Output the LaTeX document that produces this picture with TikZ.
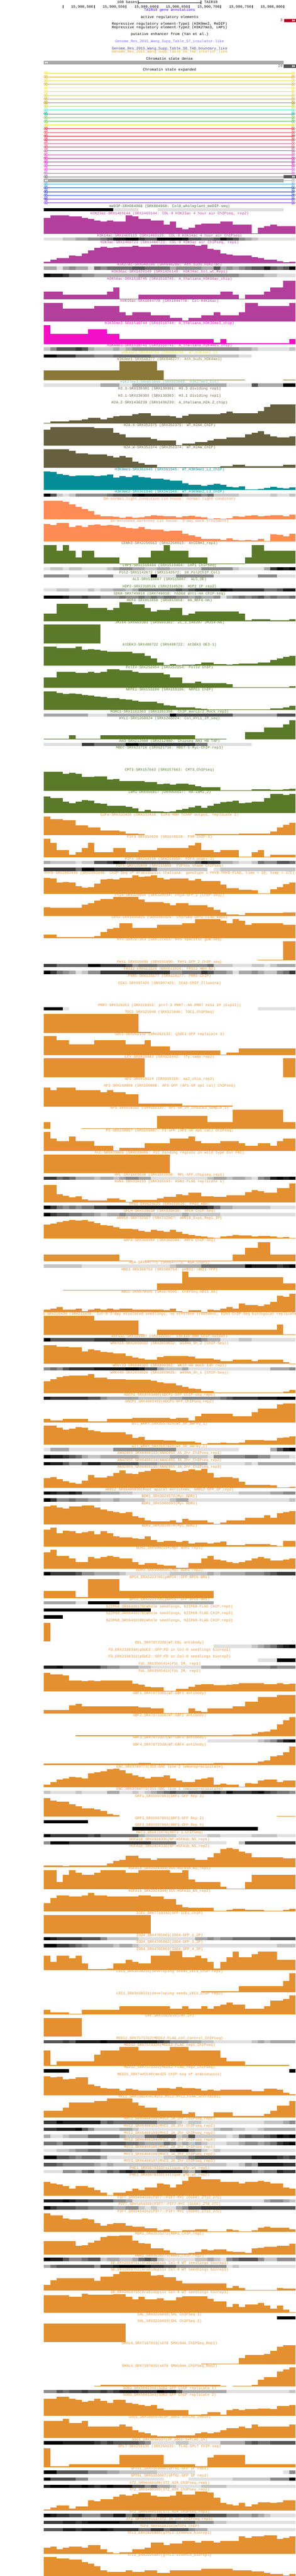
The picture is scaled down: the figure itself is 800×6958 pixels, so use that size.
\documentclass[tikz,border=0pt]{standalone}
\usepackage{fontspec}
\newfontfamily\labfont{Liberation Mono}
\definecolor{shadeA}{HTML}{E0E0E0}
\definecolor{shadeB}{HTML}{C4C4C4}
\definecolor{shadeC}{HTML}{A8A8A8}
\definecolor{shadeD}{HTML}{8C8C8C}
\definecolor{shadeE}{HTML}{707070}
\definecolor{shadeF}{HTML}{555555}
\definecolor{shadeG}{HTML}{383838}
\definecolor{shadeH}{HTML}{1C1C1C}
\definecolor{shadeI}{HTML}{000000}
\definecolor{acetyl}{HTML}{B43E9C}
\definecolor{trimeth}{HTML}{F30FC8}
\definecolor{kfour}{HTML}{C81EA8}
\definecolor{medip}{HTML}{3C5A3C}
\definecolor{kmeyel}{HTML}{E0E020}
\definecolor{kmeone}{HTML}{8A7636}
\definecolor{ktwenty}{HTML}{70C0B8}
\definecolor{histone}{HTML}{66603E}
\definecolor{kteal}{HTML}{048C98}
\definecolor{dhsite}{HTML}{FF8C55}
\definecolor{chromreg}{HTML}{5A7A2A}
\definecolor{tfactor}{HTML}{E49030}
\definecolor{geneblue}{HTML}{3B00F0}
\definecolor{tabseven}{HTML}{7B68EE}
\definecolor{tabeight}{HTML}{483D8B}
\definecolor{tabnine}{HTML}{DAA520}
\definecolor{regred}{HTML}{B2001F}
\tikzset{
  tracklab/.style={font=\labfont\fontsize{10}{10}\selectfont,inner sep=0pt,anchor=base},
  rightlab/.style={tracklab,anchor=base east},
  leftlab/.style={tracklab,anchor=base west},
  rowline/.style={line width=1pt},
  chevron/.style={line width=.8pt,line join=miter}
}
\newcount\ypos
\ypos=557
% bar track: colour, label, forty heights
\newcommand{\bartrack}[3]{%
  \foreach \v [count=\i from 0] in {#3} {%
    \ifnum\v>0
      \edef\xa{\ifnum\i=0 118\else\the\numexpr119+17*\i\relax\fi}%
      \edef\xb{\the\numexpr136+17*\i\relax}%
      \edef\ya{\the\numexpr\ypos+56-\v\relax}%
      \edef\yb{\the\numexpr\ypos+56\relax}%
      \fill[#1] (\xa,\ya) rectangle (\xb,\yb);
    \fi}%
  \node[tracklab,text=#1] (lab\the\ypos) at (458.5,\the\numexpr\ypos+3\relax) {#2};
  \global\advance\ypos by 60\relax}
% dense track: colour, label, forty shades (0 = none)
\newcommand{\densetrack}[3]{%
  \foreach \v [count=\i from 0] in {#3} {%
    \ifnum\v>0
      \edef\xa{\ifnum\i=0 118\else\the\numexpr119+17*\i\relax\fi}%
      \edef\xb{\the\numexpr136+17*\i\relax}%
      \edef\ya{\the\numexpr\ypos+5\relax}%
      \edef\yb{\the\numexpr\ypos+14\relax}%
      \fill[shade\ifcase\v\or A\or B\or C\or D\or E\or F\or G\or H\or I\fi] (\xa,\ya) rectangle (\xb,\yb);
    \fi}%
  \node[tracklab,text=#1] (lab\the\ypos) at (458.5,\the\numexpr\ypos+3\relax) {#2};
  \global\advance\ypos by 19\relax}
\newcommand{\fwdmarks}[1]{%
  \fill[white] (790,#1-3) -- (793.5,#1) -- (790,#1+3) -- cycle (794,#1-3) -- (797.5,#1) -- (794,#1+3) -- cycle;}
\newcommand{\revmarks}[1]{%
  \fill[white] (124.5,#1-3) -- (121,#1) -- (124.5,#1+3) -- cycle (128.5,#1-3) -- (125,#1) -- (128.5,#1+3) -- cycle;}
\begin{document}
\catcode`\_=12
\begin{tikzpicture}[x=1pt,y=-1pt]
  \useasboundingbox (0,0) rectangle (800,6958);
  % scale bar and ruler
  \node[rightlab] (scalelab) at (371,9.5) {100 bases};
  \node[leftlab] (asmlab) at (552,9.5) {TAIR10};
  \draw (373.5,2) -- (373.5,11) (373.5,6.5) -- (543.5,6.5) (543.5,2) -- (543.5,11);
  \foreach \x in {169.5,254.5,340,425.5,510.5,596,681.5,766.5}
    \draw (\x,13.5) -- (\x,22);
  \foreach \x/\t in {254.5/500,340/550,425.5/600,510.5/650,596/700,681.5/750,766.5/800}
    \node[rightlab] (ruler\t) at (\x-2,21) {15,900,\t};
  % upper labels
  \node[tracklab,text=geneblue] (genes) at (458.5,30) {TAIR10 gene annotations};
  \node[tracklab] (active) at (458.5,49) {active regulatory elements};
  \node[tracklab] (repone) at (458.5,68) {Repressive regulatory element-Type1 (H3K9me2, MeDIP)};
  \node[tracklab] (reptwo) at (458.5,77) {Repressive regulatory element-Type2 (H3K27me3, LHP1)};
  \node[tracklab] (putative) at (458.5,96) {putative enhancer from (Yan et al.)};
  \node[tracklab,text=tabseven] (tseven) at (458.5,115) {Genome_Res_2015_Wang_Supp_Table_S7_insulator-like};
  \node[tracklab,text=tabeight] (teight) at (458.5,134) {Genome_Res_2015_Wang_Supp_Table_S8_TAD_boundary_like};
  \node[tracklab,text=tabnine] (tnine) at (458.5,143) {Genome_Res_2015_Wang_Supp_Table_S9_TAD_interior_like};
  \node[rightlab,text=regred] (regcount) at (764,58) {3};
  \fill[regred] (768,51) rectangle (800,60);
  \fwdmarks{55.5}
  \node[tracklab] (dense) at (458.5,162) {Chromatin state dense};
  \fill[shadeC] (118,164.5) rectangle (767,173.5);
  \revmarks{169}
  \node[rightlab,text=shadeF] (statecount) at (764,181) {29};
  \fill[shadeF] (767,174) rectangle (800,183);
  \fwdmarks{178.5}
  \node[tracklab] (expanded) at (458.5,191) {Chromatin state expanded};
  % chromatin state rows
  \foreach \c [count=\r from 0] in {EEE22E,E8A02C,E6DC4A,C4B23E,EEEE3C,F5DD46,D8D030,C8A82A,A88A00,C8DC20,40F0C8,009980,6CC040,50B850,E0E020,E82030,E84048,D81020,C82030,E85880,C03850,B84890,E048B0,E000A0,D000C0,F020E0,F848F8,C858D0,555555,AAAAAA,30A8E0,1040B0,0820B0,2040E0,4020D8,8030F0} {
    \definecolor{rowc}{HTML}{\c}
    \pgfmathsetmacro\yr{197.5+10*\r}
    \draw[rowline,rowc] (127,\yr) -- (790,\yr);
    \draw[chevron,rowc] (122.5,\yr-4) -- (118.5,\yr) -- (122.5,\yr+4) -- cycle
      (127,\yr-4) -- (123,\yr) -- (127,\yr+4) -- cycle
      (789.5,\yr-4) -- (793.5,\yr) -- (789.5,\yr+4) -- cycle
      (794,\yr-4) -- (798,\yr) -- (794,\yr+4) -- cycle;
  }
  \fill[shadeF] (767,473) rectangle (800,482);
  \fwdmarks{477.5}
  \fill[shadeC] (118,483) rectangle (767,492);
  \revmarks{487.5}
  % signal tracks
  \fill[black] (118,562) rectangle (306,571);
  \fill[shadeA] (306,562) rectangle (375,571) (426,562) rectangle (767,571);
  \densetrack{medip}{meDIP-SRX004968 (SRX004968: Col0_wholeplant_meDIP-seq)}{0}
  \bartrack{acetyl}{H3K23ac-SRX1469144 (SRX1469144: COL-0 H3K23ac 4 hour air ChIPseq, rep2)}{44,51,51,51,48,48,44,40,36,33,36,33,33,51,48,40,40,36,36,25,33,17,13,17,25,28,28,28,33,33,25,25,25,2,17,21,25,21,21,21}
  \densetrack{acetyl}{H3K14ac-SRX1469119 (SRX1469119: COL-0 H3K14ac 4 hour air ChIPseq)}{1,1,1,2,2,3,3,4,4,5,6,8,8,9,9,7,6,6,9,9,9,9,8,6,6,5,5,6,8,7,6,4,3,2,1,1,1,1,1,1}
  \bartrack{acetyl}{H3K9ac-SRX1466723 (SRX1466723: COL-0 H3K9ac air ChIPseq, rep1)}{4,9,14,14,21,19,26,34,42,45,42,43,45,45,47,45,45,50,50,50,50,50,50,50,47,50,39,36,26,24,21,21,21,16,14,9,9,6,2,4}
  \densetrack{acetyl}{H3K27ac-SRX648280 (SRX648280: Ath_buds_H3K27ac)}{3,3,1,3,4,3,3,1,5,4,5,5,5,5,6,6,5,5,5,5,3,4,4,4,4,3,3,6,3,4,3,4,5,6,6,8,6,5,6,9}
  \densetrack{acetyl}{H3K36ac-SRX1426149 (SRX1426149: H3K36ac_Col_wt_Rep1)}{9,8,8,7,5,5,4,4,3,3,3,3,3,3,3,4,4,4,4,4,4,4,4,4,4,4,4,4,4,4,4,3,3,3,3,2,2,1,1,1}
  \bartrack{acetyl}{H3K56ac-SRX1518745 (SRX1518745: A_thaliana_H3K56ac_chip)}{21,21,21,13,13,13,13,13,13,13,21,32,2,2,2,13,13,13,13,13,13,13,13,13,13,13,13,13,21,21,13,2,13,13,13,21,32,32,51,51}
  \bartrack{acetyl}{H4K16ac-SRX1044778 (SRX1044778: Col-H4K16ac)}{51,51,51,35,35,35,35,35,43,43,43,43,26,18,26,26,26,18,18,18,10,10,3,10,10,18,18,26,18,18,18,26,51,51,43,43,43,43,43,51}
  \bartrack{trimeth}{H3K36me3-SRX1518744 (SRX1518744: A_thaliana_H3K36me3_chip)}{51,27,27,27,27,27,27,40,40,40,27,27,14,14,14,14,14,14,14,14,14,14,14,14,14,14,14,3,14,2,2,2,2,2,2,2,2,2,2,14}
  \densetrack{kfour}{H3K4me3-SRX1518741 (SRX1518741: A_thaliana_H3K4me3_chip)}{2,4,6,6,6,7,6,3,2,2,2,3,2,3,4,4,4,4,4,4,4,4,4,4,4,4,4,4,4,4,4,3,3,2,1,1,1,1,1,2}
  \densetrack{kmeyel}{H3K4me2-DRX066756 (DRX066756: WT_H3K4me2_1)}{9,9,7,7,7,5,5,5,4,4,4,5,5,5,5,5,5,4,4,4,4,2,2,2,2,2,2,2,2,2,2,1,1,0,0,0,0,0,0,0}
  \bartrack{kmeone}{H3K4me1-SRX648277 (SRX648277: Ath_buds_H3K4me1)}{26,26,26,26,26,26,26,26,26,26,26,26,51,51,51,51,51,51,26,2,2,2,2,2,2,2,2,2,2,2,2,2,0,0,0,0,0,0,2,2}
  \densetrack{ktwenty}{H3K27me3-SRX853860 (SRX853860: H3K27me3_Col)}{1,1,1,1,1,1,1,1,1,3,3,3,1,1,3,3,3,3,3,3,3,3,3,3,3,3,3,3,3,1,1,1,1,6,3,3,3,3,9,9}
  \densetrack{histone}{H3.3-SRX130301 (SRX130301: H3.3 dividing rep1)}{0}
  \densetrack{histone}{H3.1-SRX130303 (SRX130303: H3.1 dividing rep1)}{0}
  \bartrack{histone}{H2A.Z-SRX1436239 (SRX1436239: A_thaliana_H2A.Z_chip)}{2,5,5,5,8,8,11,15,15,11,15,19,21,21,25,28,28,21,21,21,19,15,21,25,25,25,25,25,28,32,28,28,28,28,34,45,51,51,51,51}
  \bartrack{histone}{H2A.X-SRX352375 (SRX352375: WT_H2AX_ChIP)}{43,51,51,51,51,51,51,51,47,47,47,35,31,22,22,22,22,19,14,14,14,2,6,6,10,10,14,19,19,22,22,22,31,35,39,31,26,22,22,26}
  \bartrack{histone}{H2A.W-SRX352374 (SRX352374: WT_H2AW_ChIP)}{51,51,51,51,47,40,40,36,36,36,32,28,32,28,17,13,9,9,2,2,2,2,2,2,2,2,2,2,5,5,9,9,5,5,5,5,5,5,9,9}
  \bartrack{kteal}{H3K9me1-SRX361945 (SRX361945: WT_H3K9me1_LJ_ChIP)}{51,49,44,41,38,39,40,40,38,40,43,34,38,36,39,36,34,31,31,29,26,26,18,15,15,12,15,17,14,9,8,10,2,2,3,6,9,6,5,8}
  \densetrack{kteal}{H3K9me2-SRX361946 (SRX361946: WT_H3K9me2_LJ_ChIP)}{9,6,2,1,2,4,4,4,4,4,5,6,6,6,8,9,8,8,8,8,8,8,6,5,5,4,5,2,2,2,2,1,1,1,1,1,2,1,1,2}
  \bartrack{dhsite}{DH-normal_light_condition (in house: normal light conditon)}{51,51,51,47,40,34,28,22,13,8,8,7,5,7,4,6,8,12,10,9,8,6,8,10,7,6,2,3,2,3,9,7,10,11,8,10,12,11,9,13}
  \bartrack{dhsite}{DH-extended_darkness (in house: 3-day dark treatment)}{48,45,51,50,40,43,40,45,47,43,45,44,40,37,35,39,34,33,33,28,29,30,22,17,13,7,7,7,4,9,5,3,5,3,7,2,20,18,15,21}
  \bartrack{chromreg}{CENH3-SRX2250913 (SRX2250913: AtCENH3_rep1)}{51,51,35,51,35,18,35,35,18,18,18,18,1,1,1,18,18,35,35,51,35,35,35,18,18,18,1,1,1,1,1,1,18,51,51,35,35,35,35,35}
  \densetrack{chromreg}{LHP1-SRX1519404 (SRX1519404: LHP1 ChIPseq)}{1,2,2,1,2,2,1,1,1,1,2,3,4,4,3,3,2,2,3,3,2,2,2,2,2,4,4,4,4,4,2,1,1,1,1,3,7,9,8,9}
  \densetrack{chromreg}{Pol2-SRX1142672 (SRX1142672: 30_Pol2ChIP_Col)}{4,4,4,4,1,1,1,4,4,4,4,1,1,1,1,1,1,9,1,1,1,4,4,4,4,4,4,1,1,1,1,1,1,1,4,4,4,1,1,1}
  \densetrack{chromreg}{AL5-SRX515067 (SRX515067: AL5_OE)}{0}
  \densetrack{chromreg}{HDP2-SRX2310526 (SRX2310526: HDP2 IP rep2)}{1,1,2,2,1,1,1,2,1,2,2,3,3,2,3,5,5,5,5,5,5,6,5,6,7,7,7,7,9,8,7,7,7,7,7,5,5,6,8,8}
  \densetrack{chromreg}{SDG8-SRX749018 (SRX749018: hSDG8 anti-HA ChIP-seq)}{9,9,9,8,6,6,7,6,6,4,4,4,5,4,4,5,4,5,4,5,5,4,4,3,4,3,3,4,1,3,4,5,4,5,6,4,5,4,4,5}
  \bartrack{chromreg}{REF6-SRX853858 (SRX853858: HA_REF6-HA)}{20,20,47,47,47,47,47,36,36,36,31,36,51,51,46,46,36,26,31,31,36,36,16,20,26,26,26,26,26,26,26,20,2,6,6,6,2,2,2,6}
  \bartrack{chromreg}{JMJ14-SRX669383 (SRX669383: ZC_3_140207 JMJ14-HA)}{51,51,51,51,51,51,51,51,51,0}
  \bartrack{chromreg}{AtDEK3-SRX488722 (SRX488722: AtDEK3 OE3-1)}{51,51,48,48,48,51,43,45,43,40,37,37,37,37,33,33,27,20,9,2,4,2,3,3,4,9,9,4,4,3,4,6,6,6,9,9,16,20,24,26}
  \bartrack{chromreg}{PolIV-SRX252954 (SRX252954: PolIV ChIP)}{28,28,44,44,44,40,40,44,40,44,51,51,48,48,44,40,40,40,40,36,28,28,13,13,17,13,13,13,13,10,2,2,2,2,2,2,2,2,2,5}
  \bartrack{chromreg}{NRPE1-SRX159106 (SRX159106: NRPE1 ChIP)}{51,51,47,44,45,43,41,40,37,35,33,32,29,28,25,23,23,22,18,13,11,8,8,8,4,3,2,2,2,2,2,2,2,2,2,2,5,5,8,12}
  \densetrack{chromreg}{MORC1-SRX1161363 (SRX1161358: ChIP_morc1/2_Mock_rep3)}{3,3,3,3,3,3,3,1,1,1,3,3,3,3,3,3,3,3,3,3,9,6,6,6,6,6,6,6,6,6,3,3,3,3,3,3,3,6,6,6}
  \bartrack{chromreg}{HYL1-SRX1268024 (SRX1268024: Col_HYL1_IP_seq)}{2,2,2,2,11,2,2,2,2,11,11,11,11,11,11,11,11,11,11,11,11,11,11,11,2,2,2,2,2,0,0,0,20,20,20,32,32,32,41,51}
  \densetrack{chromreg}{AN3-SRX212080 (SRX212080: Chipseq AN3 HB TAP)}{1,1,1,1,1,1,7,7,5,5,5,5,5,9,9,7,7,7,7,7,7,7,7,7,5,5,1,1,1,1,1,1,1,0,0,0,0,0,0,0}
  \bartrack{chromreg}{MBD7-SRX621716 (SRX621716: MBD7-5-Myc-ChIP-rep1)}{0}
  \bartrack{chromreg}{CMT3-SRX157663 (SRX157663: CMT3_ChIPseq)}{51,51,51,46,48,46,37,37,39,39,31,32,27,26,26,26,24,24,18,20,16,19,20,16,12,10,10,9,2,2,2,2,2,4,4,4,3,3,4,6}
  \bartrack{chromreg}{IBM1-DRX066817 (DRX066817: HA-IBM1_2)}{44,41,40,31,26,31,35,33,26,25,20,20,19,17,13,4,8,4,4,3,4,9,11,15,19,14,19,25,29,31,33,27,28,31,31,40,51,51,49,51}
  \bartrack{tfactor}{E2Fa-SRX333416 (SRX333416: E2Fa-HBH TChAP output, replicate 2)}{51,44,44,40,40,26,26,21,21,13,13,13,10,4,4,3,0,0,0,0,0,0,0,0,3,3,3,3,3,3,3,5,5,5,5,5,10,21,28,33}
  \bartrack{tfactor}{PIF3-SRX159028 (SRX159028: P3M-ChIP-3)}{51,39,20,20,7,14,26,39,14,14,14,26,26,14,14,20,20,20,26,26,26,26,26,33,39,20,20,14,20,20,20,2,2,14,20,2,7,7,7,7}
  \densetrack{tfactor}{PIF4-SRX214150 (SRX214150: PIF4-peaks-3)}{3,2,2,2,2,1,2,2,6,6,7,9,8,6,6,6,6,6,6,6,5,5,5,5,6,8,7,7,3,3,2,1,1,2,5,4,4,6,6,5}
  \densetrack{tfactor}{PIF5-SRX115869 (SRX115869: PIF5ox shade ChIPseq)}{7,7,7,7,7,5,9,9,7,7,7,7,7,7,7,7,7,5,2,2,2,2,2,2,2,2,0,1,2,2,2,2,2,2,2,2,2,2,2,2}
  \bartrack{tfactor}{PHYB-SRX2083648 (SRX2083648: ChIP-Seq of Arabidopsis thaliana: genotype = PHYB:PHYB-FLAG, time = 10, temp = 17C)}{43,41,30,32,30,20,16,18,28,38,40,38,43,43,50,46,47,50,43,38,41,41,41,36,40,35,35,35,24,15,15,11,11,10,1,1,12,18,26,30}
  \bartrack{tfactor}{PhyA-SRX320094 (SRX320094: PhyA-GFP_1 [ChIP-seq])}{24,22,22,22,22,22,30,35,41,45,45,51,51,51,51,44,38,38,38,34,29,34,34,29,29,29,23,16,9,4,4,2,8,8,8,8,8,8,9,9}
  \bartrack{tfactor}{CRY2-SRX1005826 (SRX1005826: ChIPSeq-CRY2_FLAG_Rep1)}{10,10,3,3,3,3,3,3,6,17,25,28,40,40,28,28,28,28,36,36,36,36,40,40,51,51,51,51,47,40,51,47,36,40,40,40,40,40,36,36}
  \bartrack{tfactor}{HY5-SRX727353 (SRX727353: HY5 specific gDB-seq)}{0,0,0,0,0,0,0,0,0,0,0,0,0,0,0,0,0,0,0,0,0,0,0,0,0,0,0,0,0,0,0,0,0,0,2,2,2,2,51,51}
  \densetrack{tfactor}{FHY1-SRX555090 (SRX555090: FHY1-GFP_2_ChIP-seq)}{7,7,5,5,5,5,5,9,9,7,7,7,7,6,4,5,5,5,4,4,4,4,4,4,4,4,5,2,2,2,1,1,1,2,2,1,2,3,3,3}
  \densetrack{tfactor}{FRS12-ERX611626 (ERX611626: FRS12_HBH_N2)}{9,7,5,4,3,1,2,4,4,7,7,7,7,7,7,7,7,7,7,7,4,4,5,5,5,7,6,4,4,3,1,3,3,4,3,2,2,4,5,7}
  \densetrack{tfactor}{PRR5-SRX128177 (SRX128177: PRR5-ChIP)}{0}
  \bartrack{tfactor}{CCA1-SRX997425 (SRX997425: CCA1-ChIP_Illumina)}{0}
  \densetrack{tfactor}{PRR7-SRX328353 (SRX328353: prr7-3 PRR7::HA-PRR7 \#151 IP (ExpII))}{9,9,9,1,0,0,0,0,0,0,0,0,0,0,0,0,0,0,0,0,0,0,0,0,0,0,0,0,0,0,0,0,0,0,1,1,1,1,1,1}
  \bartrack{tfactor}{TOC1-SRX121040 (SRX121040: TOC1_ChIPSeq)}{51,51,51,51,51,51,51,51,51,51,51,51,51,51,51,2,2,0}
  \bartrack{tfactor}{SOC1-SRX262132 (SRX262132: gSOC1-GFP replicate 3)}{51,51,41,41,29,29,29,29,41,41,41,41,41,29,29,29,41,24,24,24,12,12,12,12,12,12,12,12,2,7,7,18,18,18,18,18,18,18,18,18}
  \bartrack{tfactor}{LFY-SRX029442 (SRX029442: lfy-samp-rep2)}{51,51,51,51,51,51,51,51,51,51,51,51,51,51,51,51,0,0,0,0,0,0,0,0,0,0,0,0,0,0,0,0,0,0,0,0,0,0,51,51}
  \densetrack{tfactor}{AP2-SRX019319 (SRX019319: ap2_chip_rep2)}{0}
  \bartrack{tfactor}{AP3-SRX150808 (SRX150808: AP3-GFP (AP1-GR ap1 cal) ChIPseq)}{51,45,51,51,51,45,45,45,45,39,45,39,39,33,33,8,8,8,8,8,8,8,3,3,3,3,3,3,3,3,0}
  \bartrack{tfactor}{AP1-SRX018392 (SRX018392: AP1-GR_2h_induced_sample_1)}{18,0,0,0,0,0,2,2,2,2,2,2,2,2,2,2,2,2,35,35,35,35,35,35,35,35,18,18,18,18,51,51,51,51,51,51,51,51,18,18}
  \bartrack{tfactor}{PI-SRX150807 (SRX150807: PI-GFP (AP1-GR ap1 cal) ChIPseq)}{51,33,27,27,39,27,27,27,14,14,14,2,8,8,8,8,21,21,21,21,33,33,33,39,27,21,21,21,27,27,27,21,14,14,21,21,14,27,33,33}
  \bartrack{tfactor}{FLC-SRX039006 (SRX039006: FLC binding regions in wild type Col FRI)}{51,51,51,51,51,51,51,51,51,51,51,51,51,51,51,51,51,51,51,51,0}
  \densetrack{tfactor}{RPL-SRX1603698 (SRX1603698: RPL-GFP_chipseq_rep1)}{7,7,5,6,5,3,3,3,2,3,3,2,3,4,4,3,3,1,1,1,1,1,1,1,1,1,2,3,3,2,3,3,2,1,4,5,8,9,8,9}
  \bartrack{tfactor}{KAN1-SRX310193 (SRX310193: KAN1-FLAG replicate 1)}{47,47,23,18,14,17,8,5,5,5,11,11,7,2,7,7,7,7,11,15,15,22,20,26,26,17,17,15,15,20,20,19,28,34,31,26,26,39,39,51}
  \densetrack{tfactor}{PPD2-ERX620625 (ERX620625: PPD2_HBH)}{9,7,5,4,5,4,5,5,7,7,8,8,8,8,8,8,8,8,8,8,8,8,8,8,8,8,7,5,3,3,2,2,2,2,2,2,1,1,1,1}
  \densetrack{tfactor}{SPCH-SRX539638 (SRX539638: SPCH ChIP-Seq)}{9,7,6,6,5,5,4,4,3,2,3,3,4,3,3,3,3,2,2,2,2,2,3,2,2,2,2,2,1,1,1,1,1,1,1,1,1,1,1,1}
  \bartrack{tfactor}{ARR10-SRX732967 (SRX732967: ARR10_Exp1_Rep1_IP)}{38,41,45,48,51,50,51,47,43,37,35,31,27,27,25,22,19,24,22,19,24,19,13,10,8,6,3,2,6,8,11,9,9,6,8,8,6,3,5,2}
  \bartrack{tfactor}{ARF6-SRX368984 (SRX368984: ARF6 ChIP-Seq)}{18,18,18,18,18,18,18,18,18,18,18,18,1,1,0,0,1,1,1,1,1,1,1,1,1,1,1,1,1,1,18,18,35,35,51,51,18,18,18,18}
  \densetrack{tfactor}{RGA-SRX647775 (SRX647775: RGA_ChIP2)}{2,2,2,2,2,2,1,1,1,1,1,1,1,1,1,1,1,1,1,1,2,3,3,3,3,5,5,5,5,5,5,5,9,8,8,8,8,7,8,9}
  \bartrack{tfactor}{HBI1-SRX388754 (SRX388754: pHBI1::HBI1-YFP)}{0,0,0,1,1,1,1,1,1,1,1,1,1,1,1,1,1,1,18,18,18,18,51,35,35,35,35,35,35,35,35,35,35,35,35,35,35,35,18,18}
  \bartrack{tfactor}{ABI5-SRX670505 (SRX670505: ChIPSeq-ABI5_Ab)}{7,10,14,8,8,11,4,8,11,8,10,8,10,11,7,7,7,7,7,6,10,4,1,6,6,1,8,6,10,15,11,24,20,20,18,22,29,45,43,51}
  \begin{scope}
    \clip (118,3540) rectangle (800,3610);
    \bartrack{tfactor}{EIN3-SRX215430 (SRX215430: Col-0 3-day etiolated seedlings, no ethylene treatment, EIN3 ChIP-Seq biological replicate 1)}{51,51,51,51,51,51,51,51,39,39,39,39,39,39,39,1,0,0,14,14,14,14,14,14,14,14,14,14,14,14,14,14,14,14,14,14,14,27,1,1}
  \end{scope}
  \densetrack{tfactor}{ERF115-SRX320167 (SRX320167: ERF115-HBH ChIP output)}{9,6,6,6,6,6,6,6,7,7,7,7,7,6,6,6,6,6,6,6,6,6,6,5,5,4,3,3,1,1,1,2,2,1,1,1,1,1,1,1}
  \bartrack{tfactor}{WRKY18-SRX2039032 (SRX2039032: W18HA_0h_2 (ChIP-Seq))}{51,50,46,46,45,45,34,39,36,33,31,29,29,21,17,14,12,12,19,21,22,22,22,20,15,14,14,11,8,8,12,11,11,8,11,12,12,11,4,1}
  \densetrack{tfactor}{WRKY33-SRX890383 (SRX890383: WK33-HA mock 14h rep1)}{4,5,4,6,7,7,7,7,8,8,8,8,8,9,9,8,6,6,3,2,2,2,3,1,1,1,1,1,1,1,1,1,1,1,1,1,3,3,3,4}
  \bartrack{tfactor}{WRKY40-SRX2039026 (SRX2039026: W40HA_0h_1 (ChIP-Seq))}{32,38,43,46,48,48,48,51,42,42,38,38,38,36,36,36,36,34,29,26,26,21,17,13,11,6,6,2,2,2,2,2,2,2,1,1,2,2,5,8}
  \densetrack{tfactor}{ADCP1-SRX4503490(ADCP1-GFP ChIP-seq_rep1)}{8,7,7,7,7,7,7,6,6,4,3,3,3,3,3,2,2,2,2,2,3,3,4,4,4,4,4,4,5,6,7,7,7,7,8,8,8,9,9,9}
  \bartrack{tfactor}{ADCP1_SRX4503492(ADCP1-GFP_ChIPseq_rep2)}{9,5,5,9,9,9,9,2,2,2,9,9,9,9,12,12,12,12,12,12,9,12,12,5,16,23,23,23,23,23,16,16,16,27,37,37,37,48,51,51}
  \bartrack{tfactor}{all_WRKY_SRX3557820(wt_0h_aWrky_1)}{51,51,46,40,43,48,46,39,36,34,34,34,33,28,18,21,13,13,13,11,11,8,8,8,6,1,4,4,6,4,4,6,13,13,13,11,11,18,20,22}
  \densetrack{tfactor}{all_WRKY_SRX3557828(wt_0h_aWrky_2)}{1,3,3,3,1,1,1,1,1,1,1,4,4,4,4,4,4,4,4,4,4,1,1,1,1,1,1,1,1,1,1,0,0,0,0,0,3,6,8,9}
  \densetrack{tfactor}{ANAC055_SRX6460113(ANAC055_JA_2hr_ChIPseq_rep1)}{9,8,8,7,6,5,3,2,2,3,3,3,3,3,3,2,2,2,2,2,3,3,3,2,2,2,1,4,4,4,4,4,5,5,4,4,2,2,2,1}
  \densetrack{tfactor}{ANAC055_SRX6460114(ANAC055_JA_2hr_ChIPseq_rep2)}{9,8,8,6,4,4,6,8,8,6,6,6,6,6,6,4,4,4,3,3,3,3,3,3,3,3,1,1,1,1,1,1,2,1,3,3,3,3,3,3}
  \bartrack{tfactor}{ANAC055_SRX6460115(ANAC055_JA_2hr_ChIPseq_rep3)}{27,29,24,18,14,11,20,35,28,28,32,41,47,39,38,43,46,51,51,51,47,43,46,50,47,51,41,28,29,29,27,17,9,9,9,9,7,2,2,3}
  \densetrack{tfactor}{ARR12_SRX6490939(Root apical meristems, ARR12-GFP_IP_rep2)}{9,8,7,7,8,7,4,4,4,3,3,3,2,2,1,1,1,1,1,1,1,1,1,1,1,1,1,1,1,1,1,2,2,2,2,2,3,3,4,4}
  \densetrack{tfactor}{BDR1_SRX3928572(Myc_BDR1)}{9,7,4,4,5,4,4,3,3,2,2,3,2,2,2,2,1,1,1,1,2,3,3,1,1,1,1,1,1,1,1,1,1,1,1,1,1,1,1,2}
  \bartrack{tfactor}{BDR1_SRX5900593(Myc BDR1)}{48,51,45,42,48,48,51,51,45,39,36,33,30,33,21,18,11,8,8,8,11,5,14,11,11,11,5,1,5,11,11,11,18,18,18,24,18,30,33,36}
  \bartrack{tfactor}{BDR2_SRX3928574(Myc_BDR2)}{45,51,36,43,41,36,39,41,33,41,36,27,25,25,22,20,27,17,12,15,15,12,15,8,10,10,8,11,13,3,3,3,6,6,6,6,3,1,15,15}
  \bartrack{tfactor}{BDR3_SRX5900594(Myc BDR3 rep1)}{44,51,35,35,28,18,18,32,28,32,35,32,28,28,18,11,15,15,11,8,8,2,2,15,15,28,35,25,22,18,15,18,22,28,32,28,22,22,25,28}
  \densetrack{tfactor}{BDR3_SRX5900595(Myc BDR3 rep2)}{9,7,7,7,7,6,4,4,3,3,3,3,2,1,1,1,1,1,1,1,2,2,2,2,2,2,3,2,3,3,3,3,4,4,4,5,6,7,7,7}
  \bartrack{tfactor}{BPC6_ERX2223705(pBPC6::GFP:BPC6-BR1)}{19,19,19,19,19,2,2,51,51,51,51,51,19,19,19,19,19,19,19,19,19,19,19,19,19,19,19,0}
  \densetrack{tfactor}{BPC6_ERX2223706(pBPC6::GFP:BPC6-BR1)}{3,3,3,3,3,1,1,9,9,9,9,9,3,3,3,3,3,3,3,3,3,3,3,3,3,3,3,0}
  \densetrack{tfactor}{bZIP68_SRX6410178(Whole seedlings, bZIP68-FLAG.CHIP.rep1)}{9,9,9,9,9,9,9,9,9,9,9,9,9,9,9,9,9,0}
  \densetrack{tfactor}{bZIP68_SRX6410179(Whole seedlings, bZIP68-FLAG.CHIP.rep2)}{9,9,9,0}
  \bartrack{tfactor}{bZIP68_SRX6410180(Whole seedlings, bZIP68-FLAG.CHIP.rep3)}{50,0}
  \densetrack{tfactor}{EEL_SRX7873339(WT:EEL antibody)}{0,0,0,0,0,0,0,0,0,0,0,0,0,0,0,0,0,0,0,0,0,0,0,0,0,0,0,1,1,1,1,1,1,2,3,4,5,7,8,9}
  \densetrack{tfactor}{FD_ERX2338310(pSUC2::GFP:FD in Col-0 seedlings biorep1)}{0}
  \densetrack{tfactor}{FD_ERX2338311(pSUC2::GFP:FD in Col-0 seedlings biorep2)}{0,0,0,0,0,0,0,0,0,0,0,0,0,0,0,0,0,0,0,0,0,0,0,0,0,0,0,0,0,0,0,0,0,0,1,1,1,9,9,9}
  \densetrack{tfactor}{FUL_SRX3505414(FUL IM, rep1)}{8,8,9,7,7,7,7,7,7,5,4,4,3,3,3,2,2,1,1,1,1,1,1,1,1,3,3,3,4,4,4,4,4,4,4,4,5,4,4,4}
  \bartrack{tfactor}{FUL_SRX3505415(FUL IM, rep2)}{51,47,47,44,30,30,28,30,28,30,30,30,30,30,22,19,13,11,11,2,2,8,8,13,18,20,20,17,17,18,20,23,23,23,23,20,20,23,20,22}
  \bartrack{tfactor}{GBF1_SRX7873305(WT:GBF1 antibody)}{11,11,11,11,23,27,20,20,20,20,20,20,20,20,20,17,17,14,14,2,2,2,2,14,8,5,14,14,14,14,20,20,33,33,45,45,45,51,51,51}
  \bartrack{tfactor}{GBF2_SRX7873316(WT:GBF2 antibody)}{0,0,0,0,0,2,2,2,2,2,2,2,2,2,2,2,2,2,2,2,2,2,2,2,2,2,2,2,2,2,3,3,3,7,10,12,18,32,43,51}
  \densetrack{tfactor}{GBF3_SRX7873327(WT:GBF3 antibody)}{0,0,0,0,0,0,0,0,0,0,0,0,0,0,0,0,0,0,0,0,0,0,0,0,0,0,1,1,1,1,1,1,1,1,2,3,4,6,8,9}
  \bartrack{tfactor}{GBF4_SRX7873338(WT:GBF4 antibody)}{4,4,4,4,4,4,4,4,4,4,4,4,4,4,4,6,6,4,4,4,4,4,4,4,4,4,4,6,6,6,6,6,6,6,10,13,24,27,35,51}
  \bartrack{tfactor}{GNC_SRX3789773(35S:GNC line 2 immunoprecipitate)}{7,15,21,24,29,27,24,38,41,44,49,51,46,38,32,29,24,29,29,32,24,18,15,15,21,24,27,7,10,7,7,2,12,10,18,21,21,15,18,18}
  \densetrack{tfactor}{GNC_SRX3789775(35S:GNC line 1 immunoprecipitate)}{2,1,1,1,1,2,1,1,1,1,3,3,1,1,2,1,2,3,4,5,6,5,5,6,6,7,7,8,6,9,7,7,7,8,9,7,6,5,5,4}
  \bartrack{tfactor}{GRF1_SRX5507863(GRF1-GFP Rep 3)}{51,44,41,41,33,28,23,23,20,15,7,4,0,0,0,0,0,0,0,0,0,0,0,0,0,0,0,0,0,0,0,0,0,0,0,0,0,1,1,1}
  \densetrack{tfactor}{GRF3_SRX5507865(GRF3-GFP Rep 2)}{9,9,9,9,9,9,9,0}
  \densetrack{tfactor}{GRF3_SRX5507866(GRF3-GFP Rep 3)}{0,0,0,0,0,0,0,0,0,0,0,0,0,0,9,9,9,9,9,9,9,9,9,9,9,9,9,9,9,9,9,9,9,9,0}
  \densetrack{tfactor}{HAT3_SRX875470(HAT3-1_ChIPSeq)}{9,7,7,7,7,7,7,6,7,5,5,5,5,5,5,3,2,2,2,2,2,1,1,1,1,1,2,2,1,1,1,1,1,2,2,2,2,1,1,1}
  \densetrack{tfactor}{HSFA1b_SRX2024335(NP:HSFA1b_NS_rep1)}{4,9,9,9,7,7,7,7,7,7,7,7,7,7,7,7,7,5,5,5,5,1,1,1,1,1,1,1,1,0,0,2,7,7,7,7,7,7,7,7}
  \bartrack{tfactor}{HSFA1b_SRX2024336(NP:HSFA1b_NS_rep2)}{4,4,4,2,4,4,4,4,4,4,10,16,19,30,30,23,23,20,23,23,23,23,23,23,20,20,26,37,48,51,48,41,37,26,26,26,26,26,23,23}
  \bartrack{tfactor}{HSFA1b_SRX2024343(35S:HSFA1b_NS_rep1)}{51,51,20,39,51,45,39,39,45,51,51,51,51,45,45,51,51,51,51,51,45,45,51,26,20,20,20,20,7,2,2,2,20,39,39,39,39,39,39,39}
  \bartrack{tfactor}{HSFA1b_SRX2024344(35S:HSFA1b_NS_rep2)}{22,37,43,43,40,40,43,51,43,43,40,40,40,40,40,43,43,40,40,34,34,19,12,10,10,10,10,1,1,4,7,7,4,4,4,1,1,1,4,7}
  \bartrack{tfactor}{ICE1_SRX7719242(GFP-ICE1_ChIP)}{50,50,50,50,50,50,50,50,50,50,50,50,50,50,50,50,50,0}
  \densetrack{tfactor}{IDD4_SRX4705001(IDD4-GFP_1_IP)}{9,8,7,7,7,7,6,6,6,4,2,2,2,2,2,1,1,1,1,1,1,1,1,1,3,3,4,3,4,4,5,5,5,5,5,5,6,6,6,6}
  \densetrack{tfactor}{IDD4_SRX4705002(IDD4-GFP_3_IP)}{9,9,7,7,6,5,4,3,3,3,3,2,3,3,2,1,1,1,1,1,1,1,1,1,1,1,1,1,1,1,1,1,1,1,1,1,1,2,2,2}
  \bartrack{tfactor}{IDD4_SRX4705003(IDD4-GFP_4_IP)}{39,22,39,39,32,39,18,2,2,2,4,18,18,28,22,18,18,39,39,39,51,51,35,35,39,32,22,4,22,35,49,35,35,43,49,49,49,28,28,28}
  \bartrack{tfactor}{LEC1_SRX3638219(developing seeds_LEC1_ChIP rep1)}{0,0,0,0,0,0,0,0,0,0,0,0,0,0,0,0,0,0,0,0,0,0,0,0,0,2,2,2,2,2,2,16,16,16,16,16,16,16,30,51}
  \bartrack{tfactor}{LEC1_SRX3638221(developing seeds_LEC1_ChIP rep2)}{12,6,6,6,2,2,12,12,12,12,12,12,22,22,22,22,22,22,22,22,15,15,22,15,15,22,15,22,26,32,26,26,15,15,15,22,37,37,41,51}
  \bartrack{tfactor}{LHY_SRX3182010(LHY_IP)}{50,50,50,50,50,50,0}
  \densetrack{tfactor}{MED12_SRX7573312(MED12-FLAG_col_control_ChIPseq)}{6,6,6,7,6,8,8,8,8,9,8,8,8,8,8,8,8,8,7,6,4,4,4,3,3,2,2,1,1,1,1,1,1,2,3,2,3,3,3,3}
  \bartrack{tfactor}{MED12_SRX7573320(MED12-FLAG_rep1_ChIPseq)}{41,2,12,12,12,12,12,12,31,41,41,41,51,51,51,41,41,41,41,41,51,51,51,41,41,41,41,41,22,12,12,12,2,2,2,2,2,2,2,0}
  \densetrack{tfactor}{MED12_SRX7573322(MED12-FLAG_rep2_ChIPseq)}{9,9,9,9,0,0,0,0,0,0,0,0,0,0,0,0,0,0,0,0,0,0,0,0,0,0,0,0,0,0,0,0,0,0,0,0,0,0,0,9}
  \bartrack{tfactor}{MED25_SRX7445540(med25 ChIP-seq of arabidopsis)}{51,48,49,43,44,48,48,29,24,19,18,18,12,18,15,12,12,12,19,19,18,22,19,19,18,12,15,12,15,15,15,15,15,10,10,18,18,15,6,2}
  \bartrack{tfactor}{MYC2_SRX5982476(myc2_MYC2:MYC2_FLAG_untreated)}{18,18,18,26,40,40,40,40,44,44,51,51,51,51,40,31,26,26,18,18,18,18,10,14,2,2,2,14,14,14,4,4,4,4,4,10,18,31,31,44}
  \densetrack{tfactor}{MYC2_SRX6460101(MYC2_JA_2hr_ChIPseq_rep1)}{7,7,9,8,8,8,8,8,8,5,6,5,5,5,5,5,5,5,3,3,3,2,1,2,2,1,1,1,1,1,1,1,1,1,1,2,2,2,3,4}
  \densetrack{tfactor}{MYC2_SRX6460102(MYC2_JA_2hr_ChIPseq_rep2)}{7,7,8,8,8,9,6,4,2,2,2,2,3,3,2,1,1,1,1,1,1,1,1,1,1,1,1,2,3,3,2,2,1,1,2,3,3,3,3,3}
  \densetrack{tfactor}{MYC2_SRX6460103(MYC2_JA_2hr_ChIPseq_rep3)}{3,1,1,2,3,3,3,5,5,5,5,5,3,2,2,2,5,5,6,6,6,2,3,6,2,2,2,2,2,1,2,5,6,5,5,6,7,9,8,9}
  \densetrack{tfactor}{MYC2_SRX6460104(MYC2_JA_2hr_ChIPseq_rep4)}{5,5,4,6,6,6,6,7,7,5,6,6,6,5,5,4,3,3,3,5,4,2,3,2,3,2,1,1,1,2,2,3,4,4,3,4,5,7,8,9}
  \densetrack{tfactor}{MYC3_SRX6460105(MYC3_JA_2hr_ChIPseq_rep1)}{1,1,2,2,3,4,4,5,5,4,4,4,4,4,3,3,3,3,5,5,7,8,8,5,4,2,1,2,1,1,1,1,1,1,1,1,1,1,1,1}
  \densetrack{tfactor}{MYC3_SRX6460106(MYC3_JA_2hr_ChIPseq_rep2)}{9,9,6,6,5,4,5,5,5,3,1,1,1,1,1,1,1,1,1,2,2,3,3,5,6,6,6,6,6,6,6,6,6,8,8,8,8,7,6,7}
  \densetrack{tfactor}{MYC3_SRX6460107(MYC3_JA_2hr_ChIPseq_rep3)}{6,6,5,4,4,4,4,4,3,2,3,2,2,2,2,2,2,2,2,2,2,2,2,2,2,2,2,2,2,1,1,2,4,3,8,8,8,8,7,7}
  \densetrack{tfactor}{PHE1_SRX5676333(silique.gfp.wt_rep1)}{1,1,1,4,4,3,5,6,3,4,6,5,7,8,7,8,6,6,8,8,8,8,4,3,6,9,8,8,9,9,7,7,7,5,4,5,5,8,7,7}
  \bartrack{tfactor}{PHE1_SRX5676335(silique.gfp.wt_rep2)}{37,34,30,26,19,26,26,23,16,8,2,8,8,12,19,16,23,23,34,30,23,30,41,51,51,45,45,45,37,37,37,34,37,37,41,37,34,34,23,19}
  \densetrack{tfactor}{PIF7_SRX5454258(PIF7::PIF7-MYC (D108)_ZT12_27C)}{8,8,8,9,8,7,7,6,6,6,6,4,4,3,1,1,1,1,1,1,1,1,1,1,1,1,1,1,1,1,1,1,1,1,1,3,4,4,3,2}
  \densetrack{tfactor}{PIF7_SRX5454260(PIF7::PIF7-MYC (D108)_ZT8_27C)}{9,7,6,6,6,5,5,4,4,4,4,3,3,4,4,2,1,2,1,1,1,3,4,6,6,7,7,7,7,7,7,7,7,6,6,6,6,6,6,6}
  \bartrack{tfactor}{PIF7_SRX5454262(PIF7::PIF7-MYC (D108)_ZT12_27C)}{51,45,45,37,34,34,37,34,25,18,22,25,25,18,15,15,11,11,5,8,2,2,5,5,8,8,2,2,2,8,5,2,2,5,12,15,12,12,12,8}
  \bartrack{tfactor}{RBR1_SRX3531272(RBR1_ChIP_rep1)}{35,35,35,35,35,23,25,32,37,47,49,49,51,51,37,30,28,16,16,11,4,2,2,4,6,14,11,14,14,8,6,6,4,16,18,20,20,23,23,28}
  \densetrack{tfactor}{RBR1_SRX3531273(RBR1_ChIP_rep2)}{9,8,8,6,4,4,5,6,6,2,3,3,2,2,3,5,6,5,2,1,1,1,1,1,2,2,3,2,1,4,5,6,6,6,4,2,2,4,4,4}
  \densetrack{tfactor}{SE_ERX2858751(Arabidopsis Col-0 WT seedlings biorep1)}{3,5,6,6,6,6,6,6,4,7,7,8,9,9,9,9,8,7,7,6,6,4,4,4,4,4,4,4,4,1,2,1,1,1,1,1,1,1,1,1}
  \bartrack{tfactor}{SE_ERX2858752(Arabidopsis Col-0 WT seedlings biorep1)}{16,28,33,33,33,33,33,33,26,38,38,45,51,51,51,51,51,40,42,36,36,26,20,20,20,20,20,20,20,7,13,7,1,1,1,1,1,7,5,5}
  \bartrack{tfactor}{SE_ERX2858753(Arabidopsis Col-0 WT seedlings biorep1)}{48,48,48,48,44,44,51,49,49,49,49,50,50,43,37,44,37,37,39,34,34,42,45,45,45,45,38,31,31,16,24,16,23,23,26,19,11,19,9,1}
  \densetrack{tfactor}{SHL_SRX3226098(SHL ChIPSeq-1)}{0,0,0,0,0,0,0,0,0,0,0,0,0,0,0,0,0,0,0,0,0,0,0,0,0,0,0,0,0,0,0,0,0,0,0,0,0,9,9,9}
  \bartrack{tfactor}{SHL_SRX3226099(SHL ChIPSeq-2)}{50,50,50,50,50,50,50,50,50,50,50,50,50,0}
  \bartrack{tfactor}{SMXL6_SRX7187013(s678 SMXL6HA_ChIPSeq_Rep1)}{0,0,0,0,0,0,0,0,0,0,0,0,0,0,0,0,0,0,0,0,0,0,0,0,0,2,2,2,2,2,2,17,25,25,25,28,36,47,51,51}
  \bartrack{tfactor}{SMXL6_SRX7187015(s678 SMXL6HA_ChIPSeq_Rep2)}{0,0,0,0,0,0,0,0,1,4,4,4,4,4,4,4,4,4,4,4,4,4,4,4,4,4,4,4,2,0,2,2,2,4,18,25,25,40,46,51}
  \densetrack{tfactor}{SOB3_SRX5001348(SOB3-GFP ChIP replicate 1)}{4,4,6,5,6,6,7,6,6,7,6,7,8,8,8,7,7,7,9,8,8,6,3,3,3,3,3,3,3,1,1,1,1,1,1,1,1,1,1,2}
  \bartrack{tfactor}{SOB3_SRX5001349(SOB3-GFP ChIP replicate 2)}{46,46,51,51,46,43,38,40,46,40,35,43,43,35,32,29,26,29,20,15,15,15,15,3,3,4,10,10,3,15,18,15,18,18,20,20,18,26,26,29}
  \bartrack{tfactor}{SOG1_SRX3866936(IP_SOG1-3xFLAG_20min)}{46,46,46,51,41,41,46,31,31,31,31,31,36,31,21,16,12,7,4,4,4,7,7,7,12,16,12,16,21,26,26,31,26,36,31,31,31,31,31,36}
  \densetrack{tfactor}{SOG1_SRX3866937(IP_SOG1-3xFLAG_1h)}{9,9,9,8,8,8,8,8,7,6,7,6,6,6,6,5,4,1,1,1,1,2,2,1,1,1,1,1,3,3,3,3,5,6,5,5,6,6,6,6}
  \bartrack{tfactor}{SPL7-SRX250135 (SRX250135: FLAG-SPL7 ChIP-seq)}{51,2,2,2,8,8,8,8,8,8,8,8,33,33,33,33,33,33,33,8,8,8,8,8,2,2,26,33,33,33,33,33,8,8,8,8,8,8,8,8}
  \densetrack{tfactor}{SPT6L_SRX5169086(SPT6L-GFP IP rep1)}{9,9,6,6,6,6,6,4,4,4,3,3,2,2,2,2,2,2,1,1,1,1,1,1,0,0,0,0,0,0,0,0,0,0,0,0,0,0,1,4}
  \densetrack{tfactor}{SPT6L_SRX5169087(SPT6L-GFP IP rep2)}{9,6,6,6,6,4,4,1,1,1,1,1,1,1,1,1,1,1,1,0,0,0,0,1,1,1,1,1,1,1,2,2,2,2,2,2,4,4,4,9}
  \densetrack{tfactor}{STZ_SRX6460108(STZ_AIR_ChIPseq_rep1)}{8,9,9,9,8,8,9,8,7,8,9,8,8,8,6,6,4,5,3,3,2,1,1,1,1,2,2,2,2,1,1,1,1,1,1,1,1,1,1,1}
  \bartrack{tfactor}{STZ_SRX6460109(STZ_AIR_ChIPseq_rep2)}{2,8,14,14,6,11,11,28,25,31,31,37,43,40,45,48,48,40,37,37,40,51,43,43,51,51,48,34,20,16,14,20,11,16,22,22,20,22,28,28}
  \densetrack{tfactor}{STZ_SRX6460110(STZ_AIR_ChIPseq_rep3)}{9,8,7,7,6,6,4,4,4,6,6,8,8,5,7,8,7,6,8,8,8,8,8,9,6,6,6,6,6,4,4,3,3,4,3,2,1,1,1,1}
  \densetrack{tfactor}{STZ_SRX6460111(STZ_JA_2hr_ChIPseq_rep1)}{7,7,7,8,8,7,8,9,9,9,9,9,8,8,7,7,7,7,7,7,7,6,6,6,4,4,4,2,2,1,1,1,1,1,1,1,1,1,1,1}
  \densetrack{tfactor}{TCP4_SRX4168241(mTCP4_ChIP)}{6,6,6,8,8,7,8,8,8,9,8,7,7,7,7,5,5,7,7,5,6,6,6,4,3,3,1,1,1,1,1,1,1,1,1,1,1,1,1,1}
  \bartrack{tfactor}{TFL1_ERX2826885(gTFL1-1xVenus_biorep1)}{16,20,12,16,20,20,16,24,24,12,4,1,4,4,12,12,16,31,31,24,28,28,35,35,31,35,35,31,35,35,35,47,43,47,47,50,50,40,43,47}
  \bartrack{tfactor}{TFL1_ERX2826887(gTFL1-1xVenus_biorep3)}{51,51,48,48,44,44,37,34,27,16,11,11,11,16,11,11,16,16,9,9,16,16,16,16,16,19,19,19,19,19,16,16,16,13,13,9,6,6,2,5}
\end{tikzpicture}
\end{document}
